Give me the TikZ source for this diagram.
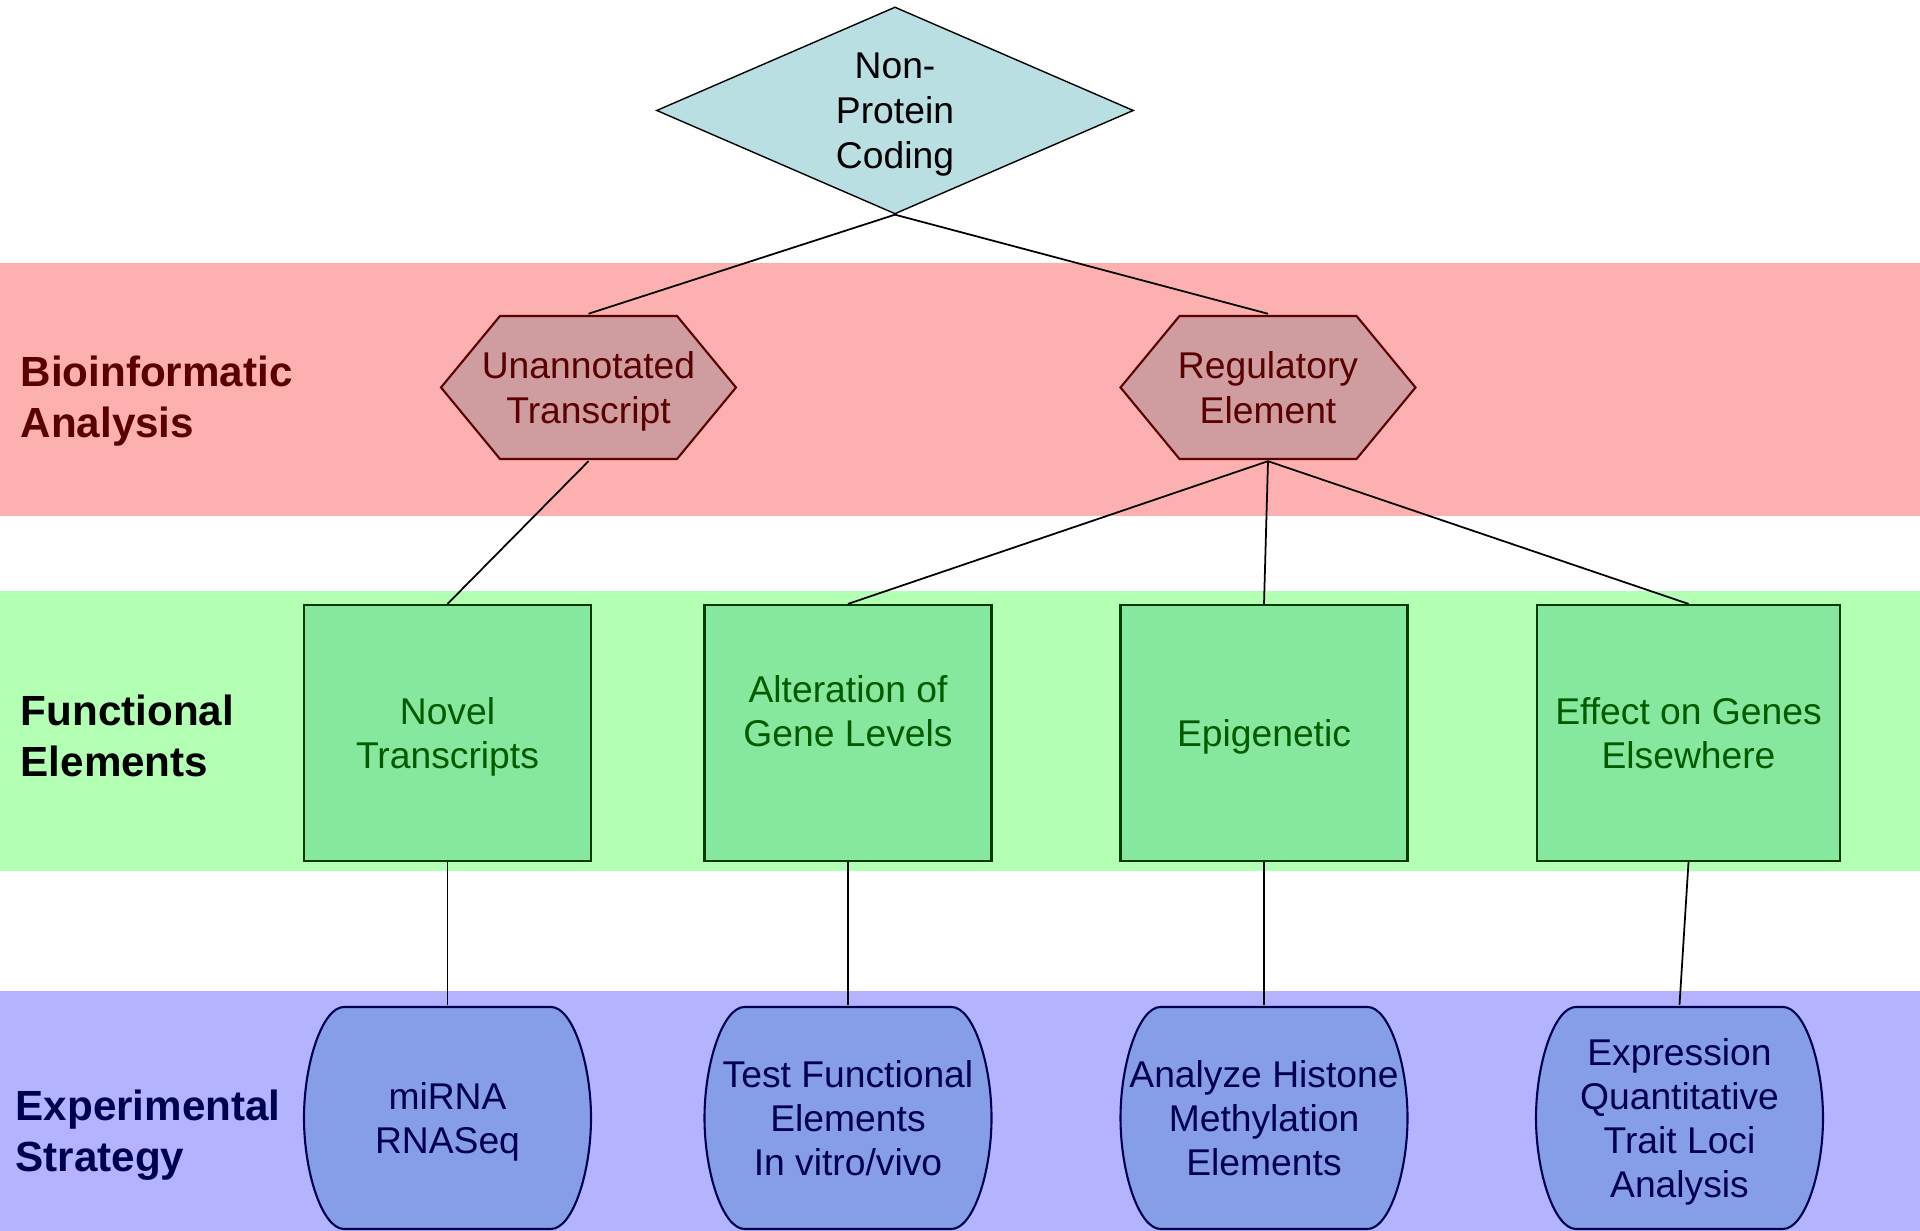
\documentclass[tikz,border=0pt]{standalone}
\usepackage{fontspec}
\setmainfont{Liberation Sans}
\usetikzlibrary{shapes.geometric}

\definecolor{bandred}{HTML}{FDB0B0}
\definecolor{bandgreen}{HTML}{B3FFB3}
\definecolor{bandblue}{HTML}{B3B3FF}
\definecolor{diafill}{HTML}{B9DFE3}
\definecolor{hexfill}{HTML}{CF9CA0}
\definecolor{hextext}{HTML}{5A0000}
\definecolor{boxfill}{HTML}{86E89E}
\definecolor{boxtext}{HTML}{005A00}
\definecolor{boxline}{HTML}{003A00}
\definecolor{barfill}{HTML}{869EE8}
\definecolor{bartext}{HTML}{000050}

\begin{document}
\begin{tikzpicture}[
    every node/.style={font=\fontsize{10.6}{12.6}\selectfont, align=center, text depth=0pt},
    rowlabel/.style={anchor=west, inner sep=0pt, font=\fontsize{12}{14.5}\selectfont\bfseries, align=left},
    topdia/.style={diamond, draw=black, fill=diafill, inner sep=0pt, aspect=2.3,
        minimum width=4.77cm, minimum height=2.07cm, font=\fontsize{10.6}{12.8}\selectfont},
    hexbox/.style={rectangle, inner sep=0pt, minimum width=2.98cm, minimum height=1.46cm, text=hextext,
        path picture={\draw[draw=hextext, fill=hexfill, line width=0.6pt]
            ([xshift=0.015cm]path picture bounding box.west)
            -- ([xshift=0.605cm,yshift=-0.015cm]path picture bounding box.north west)
            -- ([xshift=-0.605cm,yshift=-0.015cm]path picture bounding box.north east)
            -- ([xshift=-0.015cm]path picture bounding box.east)
            -- ([xshift=-0.605cm,yshift=0.015cm]path picture bounding box.south east)
            -- ([xshift=0.605cm,yshift=0.015cm]path picture bounding box.south west)
            -- cycle;}},
    funcbox/.style={rectangle, draw=boxline, fill=boxfill, text=boxtext, line width=0.6pt,
        minimum width=2.87cm, minimum height=2.56cm},
    expbox/.style={rectangle, inner sep=0pt, minimum width=2.90cm, minimum height=2.25cm, text=bartext,
        path picture={\draw[draw=bartext, fill=barfill, line width=0.6pt]
            ([xshift=0.415cm,yshift=-0.015cm]path picture bounding box.north west)
            -- ([xshift=-0.415cm,yshift=-0.015cm]path picture bounding box.north east)
            .. controls ([xshift=-0.2cm,yshift=-0.015cm]path picture bounding box.north east)
                and ([xshift=-0.015cm,yshift=0.55cm]path picture bounding box.east)
            .. ([xshift=-0.015cm]path picture bounding box.east)
            .. controls ([xshift=-0.015cm,yshift=-0.55cm]path picture bounding box.east)
                and ([xshift=-0.2cm,yshift=0.015cm]path picture bounding box.south east)
            .. ([xshift=-0.415cm,yshift=0.015cm]path picture bounding box.south east)
            -- ([xshift=0.415cm,yshift=0.015cm]path picture bounding box.south west)
            .. controls ([xshift=0.2cm,yshift=0.015cm]path picture bounding box.south west)
                and ([xshift=0.015cm,yshift=-0.55cm]path picture bounding box.west)
            .. ([xshift=0.015cm]path picture bounding box.west)
            .. controls ([xshift=0.015cm,yshift=0.55cm]path picture bounding box.west)
                and ([xshift=0.2cm,yshift=-0.015cm]path picture bounding box.north west)
            .. ([xshift=0.415cm,yshift=-0.015cm]path picture bounding box.north west)
            -- cycle;}},
    link/.style={draw=black, line width=0.5pt}
]
    % image from (0,0) to (19.2,12.31)
    \useasboundingbox (0,0) rectangle (19.2,12.31);

    % Coloured bands
    \fill[bandred] (0,7.15) rectangle (19.2,9.68);
    \fill[bandgreen] (0,3.60) rectangle (19.2,6.40);
    \fill[bandblue] (0,0) rectangle (19.2,2.40);

    % Row labels
    \node[rowlabel, text=hextext] (lbio) at (0.20,8.345) {Bioinformatic\\Analysis};
    \node[rowlabel, text=black] (lfunc) at (0.20,4.95) {Functional\\Elements};
    \node[rowlabel, text=bartext] (lexp) at (0.15,1.00) {Experimental\\Strategy};

    % Top
    \node[topdia] (npc) at (8.95,11.205) {Non-\\Protein\\Coding};

    % Bioinformatic analysis
    \node[hexbox] (unann) at (5.885,8.435) {Unannotated\\Transcript};
    \node[hexbox] (regel) at (12.68,8.435) {Regulatory\\Element};

    % Functional elements
    \node[funcbox] (novel) at (4.475,4.98) {Novel\\Transcripts};
    \node[funcbox] (alter) at (8.48,4.98) {Alteration of\\Gene Levels\\ ~};
    \node[funcbox] (epig) at (12.64,4.98) {Epigenetic};
    \node[funcbox, minimum width=3.03cm] (effect) at (16.885,4.98) {Effect on Genes\\Elsewhere};

    % Experimental strategy
    \node[expbox] (mirna) at (4.475,1.13) {miRNA\\RNASeq};
    \node[expbox] (testfe) at (8.48,1.13) {Test Functional\\Elements\\In vitro/vivo};
    \node[expbox] (histone) at (12.64,1.13) {Analyze Histone\\Methylation\\Elements};
    \node[expbox] (eqtl) at (16.795,1.13) {Expression\\Quantitative\\Trait Loci\\Analysis};

    % Connectors
    \draw[link] (npc.south) -- (unann.north);
    \draw[link] (npc.south) -- (regel.north);
    \draw[link] (unann.south) -- (novel.north);
    \draw[link] (regel.south) -- (alter.north);
    \draw[link] (regel.south) -- (epig.north);
    \draw[link] (regel.south) -- (effect.north);
    \draw[link] (novel.south) -- (mirna.north);
    \draw[link] (alter.south) -- (testfe.north);
    \draw[link] (epig.south) -- (histone.north);
    \draw[link] (effect.south) -- (eqtl.north);
\end{tikzpicture}
\end{document}
